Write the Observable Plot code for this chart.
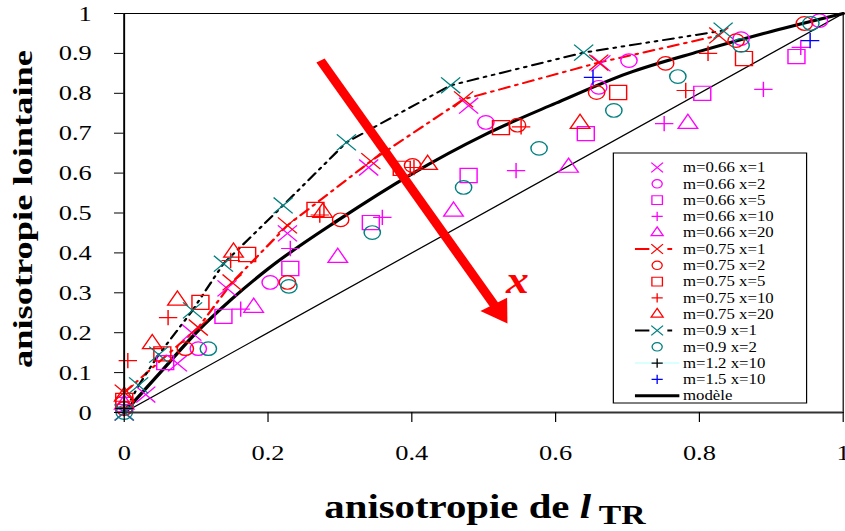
<!DOCTYPE html>
<html><head><meta charset="utf-8">
<script src="https://cdn.jsdelivr.net/npm/d3@7"></script>
<script src="https://cdn.jsdelivr.net/npm/@observablehq/plot@0.6"></script>
<style>
body{margin:0;background:#fff;}
#chart{width:845px;height:531px;overflow:hidden;}
</style></head><body><div id="chart"></div>
<script>
// ---- data ----
const xTicks = [0, 0.2, 0.4, 0.6, 0.8, 1];
const yTicks = [0, 0.1, 0.2, 0.3, 0.4, 0.5, 0.6, 0.7, 0.8, 0.9, 1];

const m066x1X = [0, 0.03, 0.074, 0.094, 0.143, 0.227, 0.340, 0.479, 0.663];
const m066x1Y = [0, 0.045, 0.123, 0.200, 0.311, 0.449, 0.614, 0.769, 0.875];
const m066x2X = [0, 0.103, 0.203, 0.503, 0.660, 0.702, 0.858, 0.967];
const m066x2Y = [0.01, 0.16, 0.326, 0.727, 0.815, 0.882, 0.937, 0.982];
const m066x5X = [0, 0.057, 0.138, 0.231, 0.343, 0.479, 0.642, 0.804, 0.935];
const m066x5Y = [0.02, 0.125, 0.241, 0.361, 0.476, 0.594, 0.699, 0.800, 0.892];
const m066x10X = [0, 0.162, 0.231, 0.359, 0.545, 0.751, 0.889, 0.941];
const m066x10Y = [0.02, 0.259, 0.411, 0.489, 0.606, 0.724, 0.810, 0.915];
const m066x20X = [0, 0.180, 0.297, 0.458, 0.618, 0.784];
const m066x20Y = [0.02, 0.263, 0.388, 0.504, 0.614, 0.724];
const m075x1X = [0, 0.103, 0.150, 0.227, 0.343, 0.472, 0.660, 0.827];
const m075x1Y = [0.05, 0.213, 0.326, 0.469, 0.630, 0.785, 0.877, 0.945];
const m075x2X = [0, 0.085, 0.227, 0.301, 0.401, 0.547, 0.657, 0.753, 0.851, 0.946];
const m075x2Y = [0.01, 0.16, 0.326, 0.483, 0.619, 0.720, 0.802, 0.875, 0.932, 0.975];
const m075x5X = [0, 0.053, 0.106, 0.171, 0.266, 0.386, 0.524, 0.687, 0.862];
const m075x5Y = [0.03, 0.147, 0.276, 0.396, 0.509, 0.612, 0.714, 0.802, 0.887];
const m075x10X = [0.005, 0.061, 0.148, 0.272, 0.403, 0.552, 0.781, 0.812];
const m075x10Y = [0.13, 0.238, 0.381, 0.495, 0.614, 0.716, 0.807, 0.900];
const m075x20X = [0, 0.039, 0.074, 0.152, 0.276, 0.422, 0.634];
const m075x20Y = [0.04, 0.172, 0.281, 0.401, 0.501, 0.621, 0.724];
const m09x1X = [0, 0.02, 0.048, 0.095, 0.138, 0.221, 0.309, 0.454, 0.639, 0.833];
const m09x1Y = [0, 0.068, 0.145, 0.256, 0.373, 0.519, 0.677, 0.820, 0.902, 0.957];
const m09x2X = [0, 0.117, 0.229, 0.345, 0.472, 0.577, 0.681, 0.770, 0.858, 0.955];
const m09x2Y = [0, 0.16, 0.316, 0.451, 0.564, 0.662, 0.757, 0.842, 0.920, 0.975];
const m12x10X = [0];
const m12x10Y = [0.01];
const m15x10X = [0.652, 0.954];
const m15x10Y = [0.840, 0.932];
const modelX = [0, 0.05, 0.1, 0.15, 0.2, 0.3, 0.4, 0.5, 0.6, 0.7, 0.8, 0.9, 1];
const modelY = [0, 0.1, 0.2, 0.285, 0.36, 0.485, 0.598, 0.695, 0.775, 0.85, 0.905, 0.955, 1];
const diagX = [0, 1];
const diagY = [0, 1];

const seriesNames = ["m=0.66 x=1","m=0.66 x=2","m=0.66 x=5","m=0.66 x=10","m=0.66 x=20",
  "m=0.75 x=1","m=0.75 x=2","m=0.75 x=5","m=0.75 x=10","m=0.75 x=20",
  "m=0.9 x=1","m=0.9 x=2","m=1.2 x=10","m=1.5 x=10","modèle"];
const seriesColors = ["#ff00ff","#ff00ff","#ff00ff","#ff00ff","#ff00ff",
  "#ff0000","#ff0000","#ff0000","#ff0000","#ff0000",
  "#008080","#008080","#000000","#0000ff","#000000"];
const seriesSymbols = ["times","circle","square2","plus","triangle2",
  "times","circle","square2","plus","triangle2",
  "times","circle","plus","plus",null];
const seriesXs = [m066x1X,m066x2X,m066x5X,m066x10X,m066x20X,m075x1X,m075x2X,m075x5X,m075x10X,m075x20X,m09x1X,m09x2X,m12x10X,m15x10X];
const seriesYs = [m066x1Y,m066x2Y,m066x5Y,m066x10Y,m066x20Y,m075x1Y,m075x2Y,m075x5Y,m075x10Y,m075x20Y,m09x1Y,m09x2Y,m12x10Y,m15x10Y];

const arrowFrom = [0.273, 0.882];
const arrowTo = [0.533, 0.223];
const arrowLabel = [{x: 0.547, y: 0.331, text: "x"}];

// ---- layout ----
const W = 704, H = 531;   // drawn narrower, then stretched to 845 px wide like the reference
const symbolR = {times: 7.3, circle: 6.8, square2: 9, plus: 5, triangle2: 7.8};

const pts = (xs, ys) => xs.map((x, i) => ({x, y: ys[i]}));

const dotMarks = seriesXs.map((xs, i) => Plot.dot(pts(xs, seriesYs[i]), {
  x: "x", y: "y", symbol: seriesSymbols[i], r: symbolR[seriesSymbols[i]],
  stroke: seriesColors[i], strokeWidth: 1.2, fill: "none"
}));

const arrowData = [{x1: arrowFrom[0], y1: arrowFrom[1], x2: arrowTo[0], y2: arrowTo[1]}];

const svg = Plot.plot({
  width: W, height: H,
  marginLeft: 103, marginRight: 2, marginTop: 13, marginBottom: 119,
  x: {domain: [0, 1]},
  y: {domain: [0, 1]},
  style: {fontFamily: "'Liberation Serif', 'Times New Roman', serif", fontSize: "22px", background: "white"},
  marks: [
    Plot.line(pts(diagX, diagY), {x: "x", y: "y", stroke: "black", strokeWidth: 1.2}),
    Plot.line(pts(modelX, modelY), {x: "x", y: "y", stroke: "black", strokeWidth: 3, curve: "monotone-x"}),
    Plot.line(pts(m075x1X, m075x1Y), {x: "x", y: "y", stroke: "#ff0000", strokeWidth: 2, strokeDasharray: "9,5,2,5"}),
    Plot.line(pts(m09x1X, m09x1Y), {x: "x", y: "y", stroke: "black", strokeWidth: 2, strokeDasharray: "9,5,2,5,2,5"}),
    ...dotMarks,
    Plot.arrow(arrowData, {x1: "x1", y1: "y1", x2: "x2", y2: "y2", stroke: "#ff0000", strokeWidth: 8, headLength: 0, insetEnd: 16, strokeLinecap: "butt"}),
    Plot.dot(arrowData, {x: "x2", y: "y2", symbol: "triangle", r: 9.6, fill: "#ff0000", stroke: "none", rotate: 149.4, dx: -7.6, dy: -12.8}),
    Plot.text(arrowLabel, {x: "x", y: "y", text: "text", fill: "#ff0000", fontSize: 38, fontWeight: "bold", fontStyle: "italic", fontFamily: "'Liberation Serif', serif"}),
    Plot.frame({stroke: "black", strokeWidth: 1}),
    Plot.ruleY([0], {stroke: "#333", strokeWidth: 2}),
    Plot.ruleX([0], {stroke: "black", strokeWidth: 1.5}),
    Plot.axisX({ticks: xTicks, tickSize: 10, tickPadding: 22, tickFormat: d => String(d), label: null, fontSize: 22}),
    Plot.axisY({ticks: yTicks, tickSize: 8, tickPadding: 12, tickFormat: d => String(d), label: null, fontSize: 22})
  ]
});

// nudge the y tick labels a little further from the axis, as in the reference
d3.select(svg).selectAll('g[aria-label="y-axis tick label"]').each(function() {
  const t = this.getAttribute("transform") || "";
  this.setAttribute("transform", "translate(-7,0) " + t);
});

// ---- axis titles ----
const sel = d3.select(svg);
const xt = sel.append("text")
  .attr("x", 404).attr("y", 518).attr("text-anchor", "middle")
  .attr("font-family", "'Liberation Serif', serif").attr("font-weight", "bold").attr("font-size", 34);
xt.append("tspan").text("anisotropie de ");
xt.append("tspan").attr("font-style", "italic").text("l");
xt.append("tspan").attr("font-size", 28).attr("dy", 6).text(" TR");

sel.append("text")
  .attr("transform", "translate(27,209) rotate(-90)")
  .attr("text-anchor", "middle")
  .attr("font-family", "'Liberation Serif', serif").attr("font-weight", "bold").attr("font-size", 23)
  .attr("textLength", 318).attr("lengthAdjust", "spacingAndGlyphs")
  .text("anisotropie lointaine");

// ---- legend ----
const lg = sel.append("g").attr("text-anchor", "start");
lg.append("rect").attr("x", 511).attr("y", 153).attr("width", 161).attr("height", 250)
  .attr("fill", "white").attr("stroke", "black").attr("stroke-width", 1);
const symMap = {times: d3.symbolTimes, circle: d3.symbolCircle, square2: d3.symbolSquare2, plus: d3.symbolPlus, triangle2: d3.symbolTriangle2};
const legScale = 0.62;
seriesNames.forEach((name, i) => {
  const cy = 167.5 + i * 16.3;
  const sym = seriesSymbols[i];
  if (i === 5 || i === 10) {
    const lc = i === 5 ? "#ff0000" : "#000000";
    lg.append("line").attr("x1", 529).attr("x2", 541).attr("y1", cy).attr("y2", cy).attr("stroke", lc).attr("stroke-width", 2);
    lg.append("line").attr("x1", 556).attr("x2", 560).attr("y1", cy).attr("y2", cy).attr("stroke", lc).attr("stroke-width", 2);
  }
  if (i === 12) {
    lg.append("line").attr("x1", 529).attr("x2", 566).attr("y1", cy).attr("y2", cy).attr("stroke", "#ccffff").attr("stroke-width", 1.5);
  }
  if (i === 14) {
    lg.append("line").attr("x1", 529).attr("x2", 566).attr("y1", cy).attr("y2", cy).attr("stroke", "black").attr("stroke-width", 3);
  }
  if (sym) {
    const r = symbolR[sym] * legScale;
    lg.append("path").attr("transform", `translate(547.5,${cy})`)
      .attr("d", d3.symbol(symMap[sym], Math.PI * r * r)())
      .attr("fill", "none").attr("stroke", seriesColors[i]).attr("stroke-width", 1.1);
  }
  lg.append("text").attr("x", 569).attr("y", cy + 4.8).attr("text-anchor", "start")
    .attr("font-family", "'Liberation Serif', serif").attr("font-size", 14).attr("fill", "black")
    .text(name);
});

// stretch horizontally like the reference
svg.setAttribute("width", 845);
svg.setAttribute("height", 531);
svg.setAttribute("viewBox", `0 0 ${W} ${H}`);
svg.setAttribute("preserveAspectRatio", "none");
svg.setAttribute("style", "display:block;width:845px;height:531px;max-width:none;background:white;font-family:'Liberation Serif','Times New Roman',serif;font-size:22px;overflow:hidden;");
document.getElementById("chart").appendChild(svg);
</script>
</body></html>
